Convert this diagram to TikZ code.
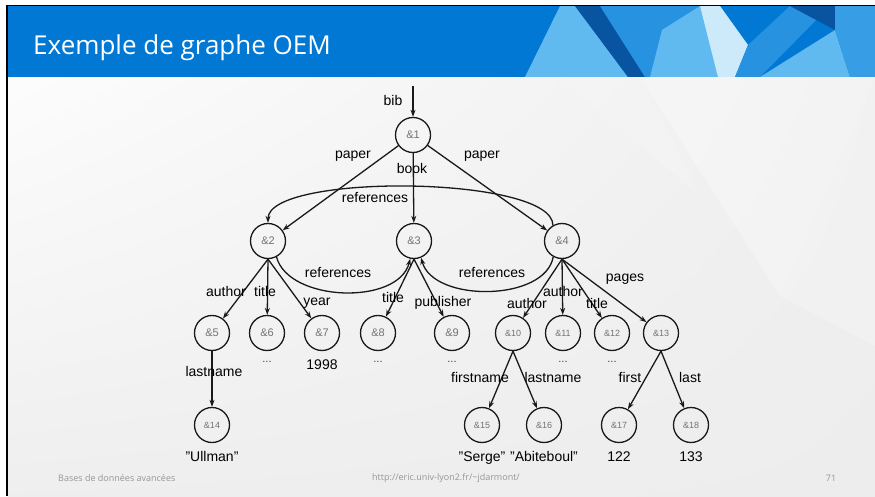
\documentclass[tikz,border=0pt]{standalone}
\usepackage{fontspec}
\setmainfont{Liberation Sans}
\newfontfamily\slidefont{Open Sans}
\usetikzlibrary{arrows.meta, positioning, shadings}

\definecolor{titleblue}{RGB}{0,120,212}
\definecolor{deepblue}{RGB}{8,84,160}
\definecolor{midblue}{RGB}{38,146,224}
\definecolor{skyblue}{RGB}{96,186,240}
\definecolor{paleblue}{RGB}{205,234,250}
\definecolor{footgray}{RGB}{150,150,150}
\newcommand{\qt}{\char34\relax}

\begin{document}
\begin{tikzpicture}[x=1pt, y=1pt,
    >={Stealth[length=7pt, width=5pt]},
    obj/.style={circle, draw=black!90, line width=1.3pt, minimum size=35pt, inner sep=0pt,
        font=\fontsize{11}{11}\selectfont, text=black!55},
    objsm/.style={obj, font=\fontsize{9}{9}\selectfont},
    lbl/.style={font=\fontsize{14}{14}\selectfont, text=black, inner sep=0pt},
    val/.style={lbl},
    more/.style={lbl, font=\fontsize{11}{11}\selectfont, text=black!75},
    link/.style={->, line width=1.3pt, draw=black!90},
    foot/.style={font=\slidefont\fontsize{9}{9}\selectfont, text=footgray, inner sep=0pt}
]
\useasboundingbox (0,0) rectangle (875,496);

% slide background
\fill[white] (0,0) rectangle (875,496);
\shade[upper left=gray!2, upper right=gray!13, lower left=gray!13, lower right=gray!14]
    (8,0) rectangle (875,419);
\fill[white, opacity=0.3] (640,419) -- (875,419) -- (780,200) -- cycle;
\fill[white, opacity=0.2] (780,200) -- (875,419) -- (875,150) -- cycle;
\fill[white, opacity=0.15] (560,419) -- (640,419) -- (700,300) -- cycle;

% title bar
\fill[titleblue] (8,419) rectangle (875,490);
\fill[skyblue] (525,419) -- (560,490) -- (575,490) -- (628,419) -- cycle;
\fill[deepblue] (575,490) -- (600,490) -- (645,419) -- (628,419) -- cycle;
\fill[midblue] (600,490) -- (700,490) -- (705,419) -- (645,419) -- cycle;
\fill[skyblue] (662,466) -- (700,490) -- (720,419) -- (650,419) -- cycle;
\fill[paleblue] (700,490) -- (720,490) -- (748,451) -- (735,419) -- (718,419) -- cycle;
\fill[midblue] (748,451) -- (790,490) -- (830,490) -- (760,419) -- (735,419) -- cycle;
\fill[deepblue] (790,490) -- (835,490) -- (835,466) -- cycle;
\fill[skyblue] (760,419) -- (835,466) -- (850,419) -- cycle;
\fill[midblue!70!skyblue] (835,490) -- (875,490) -- (875,419) -- (850,419) -- (835,466) -- cycle;
\draw[black, line width=1.8pt] (7,0) -- (7,490.5) -- (875,490.5);
\node[font=\slidefont\fontsize{26}{26}\selectfont, text=white, anchor=base west, inner sep=0pt]
    (title) at (33,441) {Exemple de graphe OEM};

% objects
\node[obj] (n1) at (413,361) {\&1};
\node[obj] (n2) at (268,255) {\&2};
\node[obj] (n3) at (414,255) {\&3};
\node[obj] (n4) at (562,255) {\&4};
\node[obj] (n5) at (212,163) {\&5};
\node[obj] (n6) at (267,163) {\&6};
\node[obj] (n7) at (322,163) {\&7};
\node[obj] (n8) at (378,163) {\&8};
\node[obj] (n9) at (452,163) {\&9};
\node[objsm] (n10) at (513,163) {\&10};
\node[objsm] (n11) at (563,163) {\&11};
\node[objsm] (n12) at (612,163) {\&12};
\node[objsm] (n13) at (661,163) {\&13};
\node[objsm] (n14) at (212,71) {\&14};
\node[objsm] (n15) at (482,71) {\&15};
\node[objsm] (n16) at (544,71) {\&16};
\node[objsm] (n17) at (619,71) {\&17};
\node[objsm] (n18) at (691,71) {\&18};

% atomic values
\node[more, below=10pt of n6] (v6) {...};
\node[val, below=8.5pt of n7] (v7) {1998};
\node[more, below=10pt of n8] (v8) {...};
\node[more, below=10pt of n9] (v9) {...};
\node[more, below=10pt of n11] (v11) {...};
\node[more, below=10pt of n12] (v12) {...};
\node[val, below=8.5pt of n14] (v14) {\qt Ullman\qt};
\node[val, below=8.5pt of n15] (v15) {\qt Serge\qt};
\node[val, below=8.5pt of n16] (v16) {\qt Abiteboul\qt};
\node[val, below=8.5pt of n17] (v17) {122};
\node[val, below=8.5pt of n18] (v18) {133};

% edges
\coordinate (root) at (413,410);
\draw[link] (root) -- (n1);
\draw[link] (n1) -- (n2);
\draw[link] (n1) -- (n3);
\draw[link] (n1) -- (n4);
\draw[link] (n4.120) .. controls +(0,50) and +(0,50) .. (n2.north);
\draw[link] (n2.-62) .. controls +(12,-45) and +(-12,-47) .. (n3.-102);
\draw[link] (n4.-119) .. controls +(-8,-45) and +(12,-45) .. (n3.-67);
\foreach \t in {n5,n6,n7} \draw[link] (n2.south) -- (\t);
\foreach \t in {n8,n9} \draw[link] (n3.south) -- (\t);
\foreach \t in {n10,n11,n12,n13} \draw[link] (n4.south) -- (\t);
\draw[link] (n5.south) -- (n14);
\foreach \t in {n15,n16} \draw[link] (n10.south) -- (\t);
\foreach \t in {n17,n18} \draw[link] (n13.south) -- (\t);

% edge labels
\node[lbl] (l-bib) at (393,396) {bib};
\node[lbl] (l-paper1) at (353,340) {paper};
\node[lbl] (l-book) at (412,328) {book};
\node[lbl] (l-paper2) at (482,340) {paper};
\node[lbl] (l-ref1) at (375,298) {references};
\node[lbl] (l-ref2) at (338,223) {references};
\node[lbl] (l-ref3) at (492,223) {references};
\node[lbl] (l-author5) at (226,205) {author};
\node[lbl] (l-title6) at (265,205) {title};
\node[lbl] (l-year) at (317,193) {year};
\node[lbl] (l-title8) at (393,199) {title};
\node[lbl] (l-publisher) at (443,193) {publisher};
\node[lbl] (l-author10) at (527,193) {author};
\node[lbl] (l-author11) at (563,205) {author};
\node[lbl] (l-title12) at (597,193) {title};
\node[lbl] (l-pages) at (625,217) {pages};
\node[lbl] (l-lastname14) at (214,125) {lastname};
\node[lbl] (l-firstname) at (480,119) {firstname};
\node[lbl] (l-lastname16) at (553,119) {lastname};
\node[lbl] (l-first) at (630,119) {first};
\node[lbl] (l-last) at (690,119) {last};

% footer
\node[foot, anchor=west] (f-course) at (58,18) {Bases de données avancées};
\node[foot] (f-url) at (446,18) {http://eric.univ-lyon2.fr/\textasciitilde jdarmont/};
\node[foot] (f-page) at (831,18) {71};
\end{tikzpicture}
\end{document}
